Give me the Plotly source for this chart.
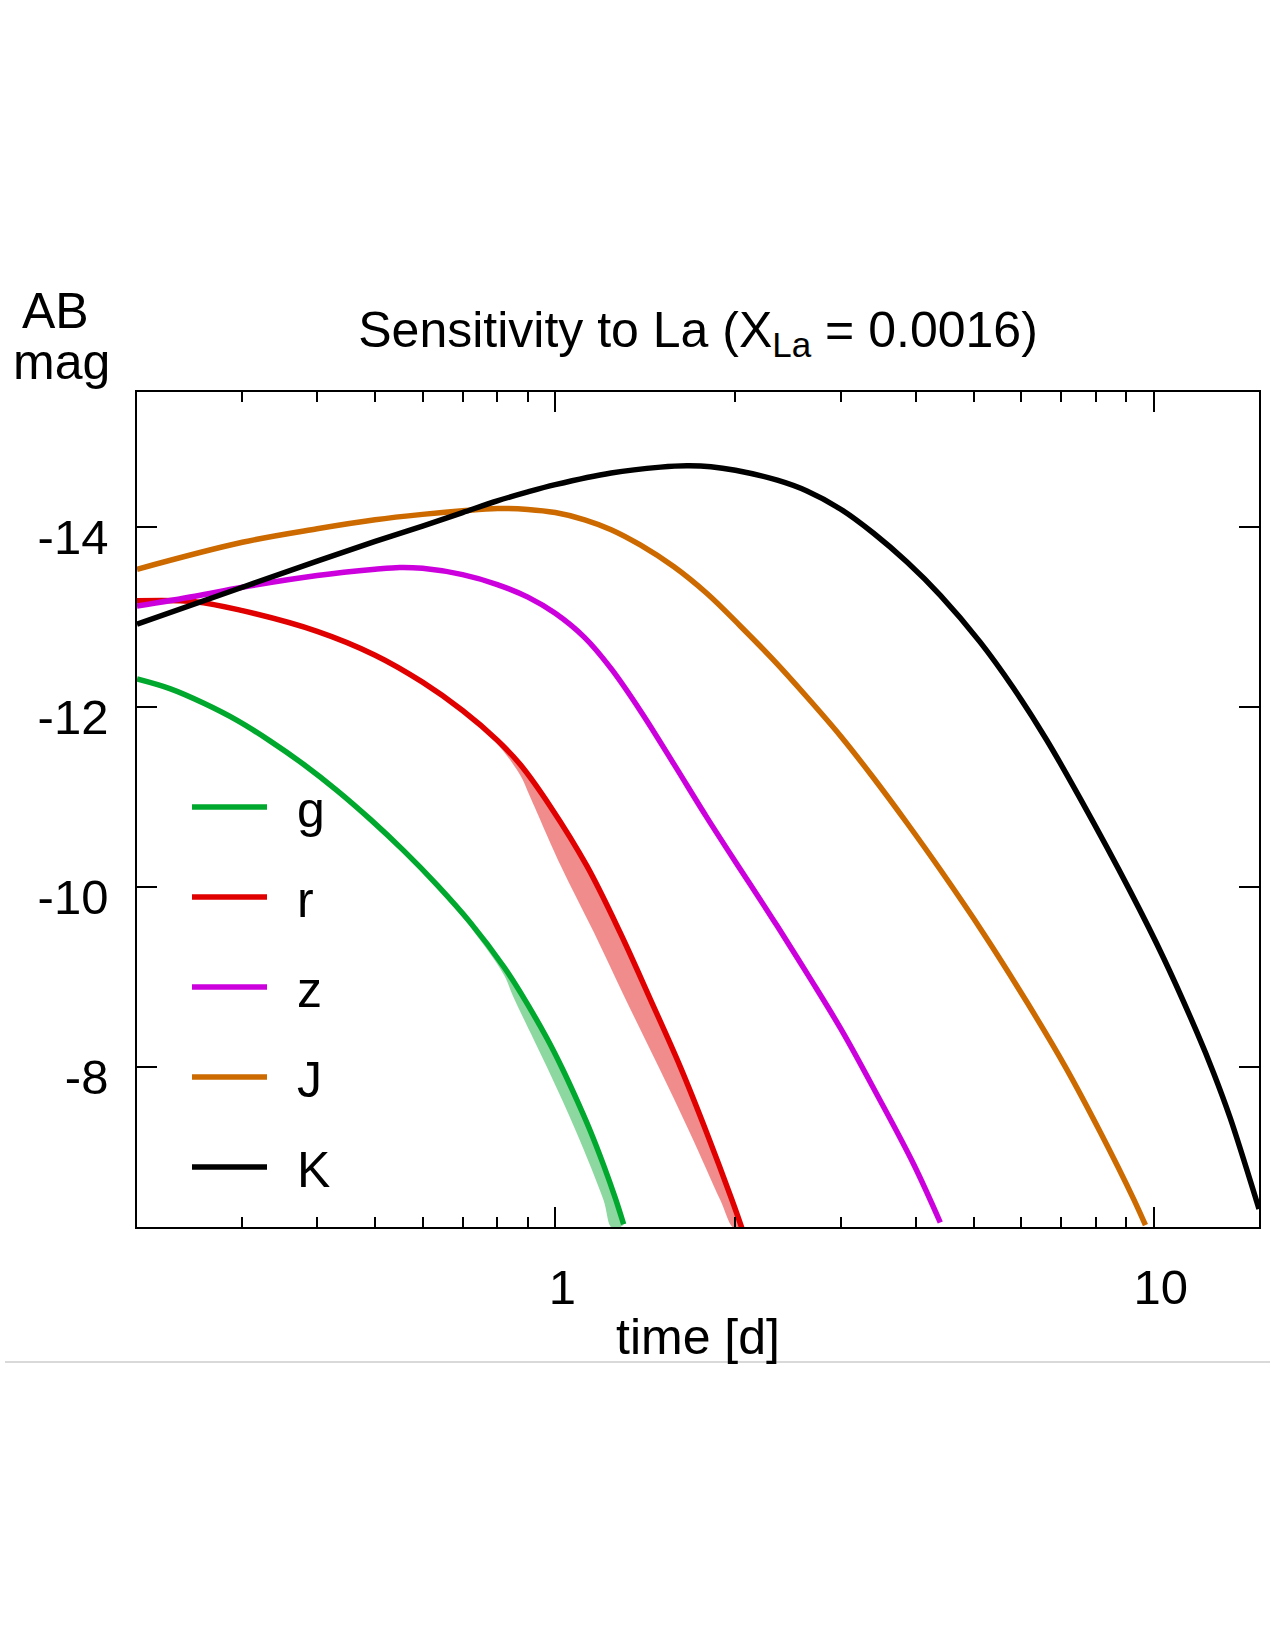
import math
import plotly.graph_objects as go

# ---------------- data ----------------
t_g = [0.2, 0.2275, 0.2587, 0.294, 0.334, 0.38, 0.432, 0.491, 0.5586, 0.635,
       0.722, 0.821, 0.874, 0.968, 1.026, 1.087, 1.144, 1.204, 1.26, 1.301]
m_g = [-12.31, -12.20, -12.04, -11.85, -11.62, -11.36, -11.07, -10.75, -10.40, -10.02,
       -9.60, -9.11, -8.83, -8.32, -7.99, -7.63, -7.29, -6.91, -6.54, -6.25]
t_g_edge = [0.635, 0.722, 0.821, 0.852, 0.968, 1.087, 1.204, 1.244]
m_g_edge = [-10.02, -9.55, -9.02, -8.77, -8.0, -7.26, -6.52, -6.21]

t_r = [0.2, 0.25, 0.3, 0.4, 0.5, 0.6, 0.7, 0.8, 0.874, 0.98, 1.13, 1.284,
       1.442, 1.618, 1.793, 1.974, 2.05]
m_r = [-13.18, -13.17, -13.07, -12.84, -12.575, -12.275, -11.96, -11.63, -11.36, -10.90,
       -10.23, -9.49, -8.75, -8.0, -7.26, -6.52, -6.21]
t_r_edge = [0.7, 0.8, 0.874, 0.908, 1.019, 1.159, 1.309, 1.488, 1.681, 1.887, 1.986]
m_r_edge = [-11.96, -11.59, -11.24, -11.0, -10.25, -9.50, -8.76, -8.0, -7.26, -6.52, -6.21]

t_z = [0.2, 0.25, 0.3, 0.4, 0.5, 0.55, 0.6, 0.7, 0.8, 0.9, 1.0, 1.12, 1.24, 1.39,
       1.577, 1.793, 2.0, 2.117, 2.347, 2.668, 3.033, 3.45, 3.97, 4.40]
m_z = [-13.12, -13.23, -13.33, -13.46, -13.53, -13.55, -13.54, -13.47, -13.36, -13.22,
       -13.04, -12.77, -12.425, -11.95, -11.37, -10.77, -10.28, -10.03, -9.57, -8.98,
       -8.37, -7.69, -6.92, -6.27]

t_J = [0.2, 0.3, 0.4, 0.5, 0.6, 0.7, 0.8, 0.9, 1.0, 1.12, 1.24, 1.387, 1.577, 1.793,
       2.038, 2.317, 2.634, 2.995, 3.404, 3.871, 4.401, 5.2, 6.14, 7.12, 8.15, 9.26, 9.69]
m_J = [-13.53, -13.83, -13.98, -14.08, -14.14, -14.18, -14.205, -14.195, -14.16, -14.08,
       -13.97, -13.80, -13.56, -13.26, -12.90, -12.52, -12.11, -11.68, -11.21, -10.71,
       -10.19, -9.48, -8.72, -8.0, -7.27, -6.53, -6.24]

t_K = [0.2, 0.3, 0.4, 0.5, 0.6, 0.7, 0.8, 0.9, 1.0, 1.24, 1.5, 1.66, 1.82, 2.0,
       2.35, 2.634, 2.995, 3.404, 3.871, 4.401, 5.13, 5.83, 6.63, 7.54, 9.14, 10.39,
       11.82, 12.6, 13.43, 14.89, 15.0]
m_K = [-12.92, -13.33, -13.62, -13.84, -14.01, -14.16, -14.29, -14.39, -14.47, -14.60,
       -14.665, -14.68, -14.67, -14.63, -14.52, -14.40, -14.20, -13.93, -13.61, -13.24,
       -12.72, -12.21, -11.63, -10.98, -9.95, -9.21, -8.38, -7.93, -7.43, -6.49, -6.42]

band_names = ["g", "r", "z", "J", "K"]
colors = {"g": "#00a82d", "r": "#e00000", "z": "#cc00dd", "J": "#cc6a00", "K": "#000000"}
band_fill = {"g": "rgba(0,168,45,0.45)", "r": "rgba(224,0,0,0.45)"}

x_tickvals = [1, 10]
x_ticktext = ["1", "10"]
x_minor = [0.3, 0.4, 0.5, 0.6, 0.7, 0.8, 0.9, 2, 3, 4, 5, 6, 7, 8, 9]
y_tickvals = [-14, -12, -10, -8]
y_ticktext = ["-14", "-12", "-10", "-8"]
x_range = [0.2, 15]
y_range = [-6.22, -15.5]

FONT = "Liberation Sans, Arial, Helvetica, sans-serif"

series = {"g": (t_g, m_g), "r": (t_r, m_r), "z": (t_z, m_z), "J": (t_J, m_J), "K": (t_K, m_K)}
edges = {"g": (t_g_edge, m_g_edge), "r": (t_r_edge, m_r_edge)}

fig = go.Figure()

# shaded sensitivity bands
for name in ["g", "r"]:
    tm, mm = series[name]
    te, me = edges[name]
    start = te[0]
    idx = [i for i, tv in enumerate(tm) if tv >= start]
    xs = [tm[i] for i in idx] + te[::-1]
    ys = [mm[i] for i in idx] + me[::-1]
    fig.add_trace(go.Scatter(x=xs, y=ys, mode="lines", fill="toself",
                             fillcolor=band_fill[name],
                             line=dict(width=0, shape="spline", smoothing=1.0),
                             hoverinfo="skip", showlegend=False))

for i, name in enumerate(band_names):
    tm, mm = series[name]
    fig.add_trace(go.Scatter(x=tm, y=mm, mode="lines", name="\u2002" + name,
                             legendgroup=name,
                             line=dict(color=colors[name], width=5.5, shape="spline", smoothing=1.0)))

axis_common = dict(showline=True, linecolor="black", linewidth=1.5, mirror="ticks",
                   ticks="inside", tickcolor="black", tickwidth=1.5, ticklen=20,
                   showgrid=False, zeroline=False,
                   tickfont=dict(family=FONT, size=49, color="black"))

fig.update_xaxes(type="log", range=[math.log10(x_range[0]), math.log10(x_range[1])],
                 tickmode="array", tickvals=x_tickvals, ticktext=x_ticktext,
                 minor=dict(ticks="inside", ticklen=10, tickwidth=1.5, tickcolor="black",
                            tickmode="array", tickvals=x_minor, showgrid=False),
                 ticklabelstandoff=16, ticklabelshift=7,
                 **axis_common)
fig.update_yaxes(range=y_range, tickmode="array", tickvals=y_tickvals, ticktext=y_ticktext,
                 ticklabelstandoff=17, ticklabelshift=-10,
                 **axis_common)

W, H = 1275, 1650
L, R, T, B = 137, 1259, 392, 1227
pw, ph = R - L, B - T

def px(x):
    return (x - L) / pw

def py(y):
    return (B - y) / ph

fig.update_layout(
    width=W, height=H,
    margin=dict(l=L, r=W - R, t=T, b=H - B, pad=0),
    paper_bgcolor="white", plot_bgcolor="white",
    font=dict(family=FONT, color="black", size=50),
    title=dict(text="Sensitivity to La (X<sub>La</sub> = 0.0016)",
               font=dict(family=FONT, size=50, color="black"),
               x=0.5, xref="paper", xanchor="center",
               y=1 - 311.5 / H, yref="container", yanchor="top"),
    showlegend=True,
    legend=dict(x=px(187), y=py(768), xanchor="left", yanchor="top",
                bgcolor="rgba(0,0,0,0)", borderwidth=0,
                font=dict(family=FONT, size=50, color="black"),
                itemwidth=75, tracegroupgap=22, traceorder="grouped"),
    annotations=[
        dict(text="AB", x=px(55), y=py(311), xref="paper", yref="paper",
             xanchor="center", yanchor="middle", showarrow=False,
             font=dict(family=FONT, size=50, color="black")),
        dict(text="mag", x=px(61), y=py(362), xref="paper", yref="paper",
             xanchor="center", yanchor="middle", showarrow=False,
             font=dict(family=FONT, size=50, color="black")),
        dict(text="time [d]", x=0.5, y=py(1337), xref="paper", yref="paper",
             xanchor="center", yanchor="middle", showarrow=False,
             font=dict(family=FONT, size=50, color="black")),
    ],
    shapes=[dict(type="line", xref="paper", yref="paper", x0=px(5), x1=px(1270),
                 y0=py(1362), y1=py(1362), line=dict(color="#cccccc", width=1.5))],
)

fig.write_html("out.html")
